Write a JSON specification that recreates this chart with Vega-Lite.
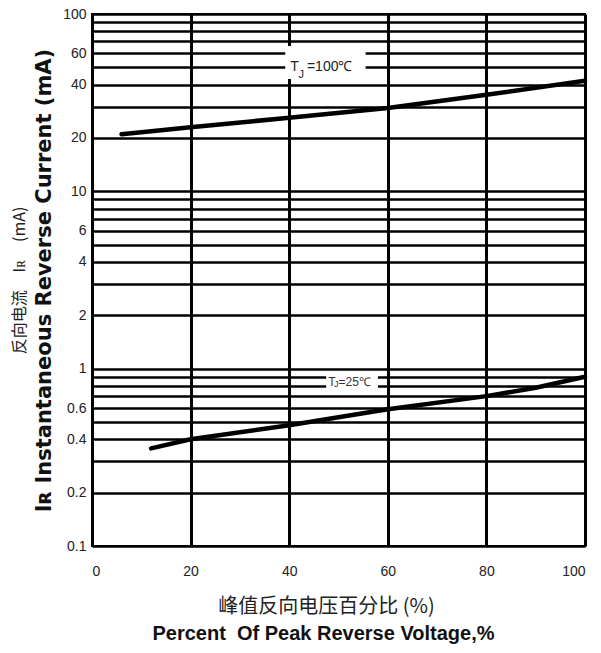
{
  "$schema": "https://vega.github.io/schema/vega-lite/v6.json",
  "width": 493,
  "height": 532,
  "padding": {"left": 11, "top": 7, "right": 10, "bottom": 2},
  "background": "white",
  "config": {
    "view": {"stroke": "black", "strokeWidth": 2},
    "font": "Liberation Sans"
  },
  "title": {
    "text": "Percent\u00a0 Of Peak Reverse Voltage,%",
    "orient": "bottom",
    "font": "Liberation Sans",
    "fontSize": 20,
    "fontWeight": "bold",
    "color": "#111",
    "offset": 8,
    "dx": -15
  },
  "datasets": {
    "curves": [
      {"series": "100", "x": 6, "y": 21},
      {"series": "100", "x": 20, "y": 23},
      {"series": "100", "x": 40, "y": 26},
      {"series": "100", "x": 60, "y": 29.5},
      {"series": "100", "x": 80, "y": 35},
      {"series": "100", "x": 100, "y": 42},
      {"series": "25", "x": 12, "y": 0.355},
      {"series": "25", "x": 20, "y": 0.4},
      {"series": "25", "x": 40, "y": 0.48},
      {"series": "25", "x": 60, "y": 0.59},
      {"series": "25", "x": 80, "y": 0.7},
      {"series": "25", "x": 90, "y": 0.78},
      {"series": "25", "x": 100, "y": 0.9}
    ],
    "boxes": [
      {"x": 39.2, "x2": 55.5, "y": 43, "y2": 66},
      {"x": 47.5, "x2": 58, "y": 0.74, "y2": 0.96}
    ],
    "labels": [
      {"kind": "big", "x": 40.2, "y": 50, "t": "T"},
      {"kind": "bigsub", "x": 41.9, "y": 45.5, "t": "J"},
      {"kind": "big", "x": 43.6, "y": 50, "t": "=100℃"},
      {"kind": "small", "x": 47.9, "y": 0.845, "t": "T"},
      {"kind": "smallsub", "x": 49.1, "y": 0.815, "t": "J"},
      {"kind": "small", "x": 50.0, "y": 0.845, "t": "=25℃"}
    ]
  },
  "encoding": {
    "x": {
      "field": "x", "type": "quantitative",
      "scale": {"domain": [0, 100], "nice": false},
      "axis": {
        "values": [0, 20, 40, 60, 80, 100],
        "grid": true, "gridColor": "black", "gridWidth": 3, "gridOpacity": 1,
        "ticks": false, "domain": false,
        "labelPadding": 18, "labelFontSize": 14, "labelColor": "#222",
        "labelFont": "Liberation Sans",
        "title": "峰值反向电压百分比\u00a0(%)",
        "titleFont": "Noto Sans CJK SC", "titleFontSize": 20, "titleFontWeight": "normal",
        "titleColor": "#222", "titlePadding": 18, "titleX": 234
      }
    }
  },
  "resolve": {"axis": {"y": "independent"}},
  "layer": [
    {
      "data": {"name": "curves"},
      "mark": {"type": "line", "color": "black", "strokeWidth": 4.5, "strokeCap": "round"},
      "encoding": {
        "y": {
          "field": "y", "type": "quantitative",
          "scale": {"type": "log", "domain": [0.1, 100], "nice": false},
          "axis": {
            "values": [0.1, 0.2, 0.3, 0.4, 0.5, 0.6, 0.7, 0.8, 0.9, 1, 2, 3, 4, 5, 6, 7, 8, 9, 10, 20, 30, 40, 50, 60, 70, 80, 90, 100],
            "labelExpr": "indexof([0.1, 0.2, 0.4, 0.6, 1, 2, 4, 6, 10, 20, 40, 60, 100], datum.value) >= 0 ? format(datum.value, '~g') : ''",
            "grid": true, "gridColor": "black", "gridWidth": 2.5, "gridOpacity": 1,
            "ticks": false, "domain": false,
            "labelPadding": 6, "labelFontSize": 14, "labelColor": "#222",
            "labelFont": "Liberation Sans",
            "title": "Iʀ Instantaneous Reverse Current (mA)",
            "titleFont": "DejaVu Sans", "titleFontSize": 21, "titleFontWeight": "bold",
            "titleColor": "#111", "titlePadding": 8
          }
        },
        "detail": {"field": "series"}
      }
    },
    {
      "data": {"name": "curves"},
      "mark": {"type": "point", "opacity": 0},
      "encoding": {
        "y": {
          "field": "y", "type": "quantitative",
          "scale": {"type": "log", "domain": [0.1, 100], "nice": false},
          "axis": {
            "orient": "left",
            "labels": false, "ticks": false, "domain": false, "grid": false,
            "title": "反向电流\u00a0\u00a0\u00a0\u00a0\u00a0Iʀ\u00a0\u00a0\u00a0\u00a0\u00a0(mA)\u00a0\u00a0\u00a0\u00a0",
            "titleFont": "Noto Sans CJK SC", "titleFontSize": 16, "titleFontWeight": "normal",
            "titleColor": "#222", "titlePadding": 65
          }
        }
      }
    },
    {
      "data": {"name": "boxes"},
      "mark": {"type": "rect", "color": "white"},
      "encoding": {
        "x2": {"field": "x2"},
        "y": {"field": "y", "type": "quantitative", "axis": null},
        "y2": {"field": "y2"}
      }
    },
    {
      "data": {"name": "labels"},
      "transform": [{"filter": "datum.kind == 'big'"}],
      "mark": {"type": "text", "align": "left", "baseline": "middle", "fontSize": 14, "color": "#222", "font": "Liberation Sans"},
      "encoding": {
        "y": {"field": "y", "type": "quantitative", "axis": null},
        "text": {"field": "t"}
      }
    },
    {
      "data": {"name": "labels"},
      "transform": [{"filter": "datum.kind == 'bigsub'"}],
      "mark": {"type": "text", "align": "left", "baseline": "middle", "fontSize": 11, "color": "#222", "font": "Liberation Sans"},
      "encoding": {
        "y": {"field": "y", "type": "quantitative", "axis": null},
        "text": {"field": "t"}
      }
    },
    {
      "data": {"name": "labels"},
      "transform": [{"filter": "datum.kind == 'small'"}],
      "mark": {"type": "text", "align": "left", "baseline": "middle", "fontSize": 12, "color": "#333", "font": "Liberation Sans"},
      "encoding": {
        "y": {"field": "y", "type": "quantitative", "axis": null},
        "text": {"field": "t"}
      }
    },
    {
      "data": {"name": "labels"},
      "transform": [{"filter": "datum.kind == 'smallsub'"}],
      "mark": {"type": "text", "align": "left", "baseline": "middle", "fontSize": 9, "color": "#333", "font": "Liberation Sans"},
      "encoding": {
        "y": {"field": "y", "type": "quantitative", "axis": null},
        "text": {"field": "t"}
      }
    }
  ]
}
